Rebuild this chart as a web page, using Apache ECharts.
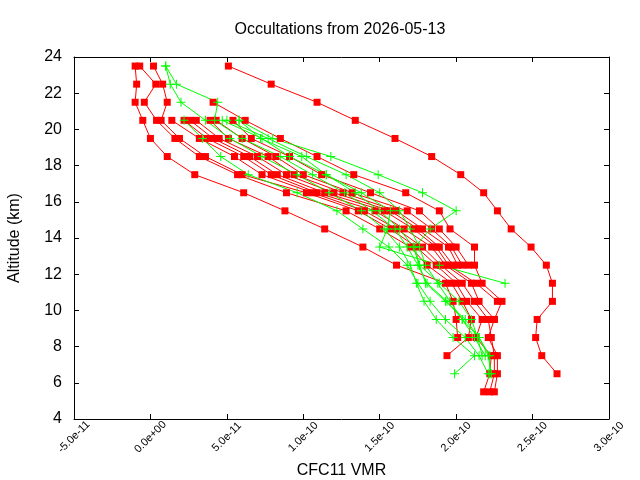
<!DOCTYPE html>
<html>
<head>
<meta charset="utf-8">
<script src="https://cdn.jsdelivr.net/npm/echarts@6/dist/echarts.min.js"></script>
<style>
  html, body { margin: 0; padding: 0; background: #fff; }
  #chart { width: 640px; height: 480px; }
</style>
</head>
<body>
<div id="chart"></div>
<script>
// altitude grid (km), top to bottom
const ALT = [23.5, 22.5, 21.5, 20.5, 19.5, 18.5, 17.5, 16.5, 15.5, 14.5,
             13.5, 12.5, 11.5, 10.5, 9.5, 8.5, 7.5, 6.5, 5.5]

// CFC11 VMR in pptv (1e-12), one value per ALT entry, null = no retrieval
const n = null
const red0  = [51, 79, 109, 134, 160, 184, 203, 218, 227, 236, 249, 259, 263, 263, 253, 252, 256, 266, n]
const red1  = [-10, -9, -10, -5, 0, 11, 29, 61, 88, 114, 139, 161, 193, 198, 200, 201, n, n, n]
const red2  = [-7, 3.5, -4, 4, 16, 32, 57, 89, 128, 150, 170, 181, 197, 204, 210, 208, 194, n, n]
const red3  = [2, 8, 11, 7, 19, 36, 60, 102, 136, 157, 174, 187, 200, 207, 217, 213, 223, 222, 218]
const red4  = [n, n, 41, 62, 85, 109, 133, 167, 189, 196, 212, 212, 217, 230, 225, 221, 227, 227, 225]
const red5  = [n, n, n, 14, 32, 55, 73, 106, 140, 161, 178, 190, 204, 212, 221, 223, 225, 225, 222]
const red6  = [n, n, n, 22, 37, 61, 79, 109, 147, 166, 184, 193, 210, 215, 225, n, n, n, n]
const red7  = [n, n, n, 26, 41, 65, 83, 114, 153, 172, 187, 195, 213, 227, n, n, n, n, n]
const red8  = [n, n, n, 30, 45, 70, 89, 120, 157, 175, 189, 198, n, n, n, n, n, n, n]
const red9  = [n, n, n, 39, 51, 77, 94, 126, 161, 178, 195, 201, n, n, n, n, n, n, n]
const red10 = [n, n, n, 43, 60, 82, 100, 132, 168, 184, 197, 204, n, n, n, n, n, n, n]
const red11 = [n, n, n, 54, 66, 91, 112, 144, 176, 189, 200, 208, n, n, n, n, n, n, n]

const green1 = [10, 13, 20, 36, 52, 73, 96, 117, 138, 153, 163, 170, 174, 179, 187, 198, 212, 199, n]
const green2 = [10, 17, 44, 42, 60, 85, 106, 127, 145, 160, 168, 175, 181, 194, 204, 215, 222, 222, n]
const green3 = [n, n, n, 58, 72, 99, 115, 134, 150, 163, 172, 176, 189, 202, 210, 214, 217, n, n]
const green4 = [n, n, n, 22, 34, 46, 64, 96, 122, 139, 156, 168, 175, 183, 193, 206, 215, 221, n]
const green5 = [n, n, n, 50, 77, 102, 128, 150, 163, 170, 176, 180, 188, 196, 204, 212, 219, n, n]
const green6 = [n, n, n, 58, 80, 118, 149, 178, 200, 183, 173, 176, 180, 193, 206, 215, 221, 223, n]
const green7 = [n, n, n, 47, 73, 91, 115, 138, 157, 155, 150, 189, 232, n, n, n, n, n, n]

const redProfiles = [red0, red1, red2, red3, red4, red5, red6, red7, red8, red9, red10, red11]
const greenProfiles = [green1, green2, green3, green4, green5, green6, green7]

const X_TICKS = { min: -50, max: 300, step: 50 }
const Y_TICKS = { min: 4, max: 24, step: 2 }

const FONT = 'Liberation Sans, Arial, sans-serif'
const PLUS = 'path://M4,0h1v4h4v1h-4v4h-1v-4h-4v-1h4z'

// gnuplot style exponent labels, e.g. 5.0e-11, 0.0e+00
const fmtVmr = (v) => {
  if (v === 0) return '0.0e+00'
  return (v * 1e-12).toExponential(1).replace(/e([+-])(\d)$/, 'e$10$2')
}

const toPoints = (vals) => vals
  .map((v, i) => (v === null ? null : [v, ALT[i]]))
  .filter((p) => p !== null)

const profileSeries = (vals, color, symbol, size) => ({
  type: 'line',
  data: toPoints(vals),
  symbol,
  symbolSize: size,
  showAllSymbol: true,
  lineStyle: { color, width: 1 },
  itemStyle: { color },
  emphasis: { disabled: true },
  silent: true
})

const series = [
  ...redProfiles.map((p) => profileSeries(p, '#ff0000', 'rect', 7)),
  ...greenProfiles.map((p) => profileSeries(p, '#00ff00', PLUS, 9))
]

const axisLine = { show: true, onZero: false, lineStyle: { color: '#000', width: 1 } }
const axisTick = { show: true, inside: true, length: 5, lineStyle: { color: '#000' } }

const option = {
  animation: false,
  backgroundColor: '#fff',
  textStyle: { fontFamily: FONT },
  title: {
    text: 'Occultations from 2026-05-13',
    left: 335,
    top: 17,
    textAlign: 'center',
    textStyle: { fontFamily: FONT, fontSize: 16, fontWeight: 'normal', color: '#000' }
  },
  grid: { left: 74, right: 31, top: 57, bottom: 61, containLabel: false, outerBoundsMode: 'none' },
  xAxis: [
    {
      type: 'value',
      min: X_TICKS.min,
      max: X_TICKS.max,
      interval: X_TICKS.step,
      position: 'bottom',
      axisLine,
      axisTick,
      splitLine: { show: false },
      axisLabel: {
        rotate: 45,
        fontSize: 11,
        color: '#000',
        fontFamily: FONT,
        align: 'center',
        verticalAlign: 'middle',
        margin: 18,
        formatter: fmtVmr
      },
      name: 'CFC11 VMR',
      nameLocation: 'middle',
      nameGap: 35,
      nameTextStyle: { fontSize: 16, color: '#000', fontFamily: FONT }
    },
    {
      type: 'value',
      min: X_TICKS.min,
      max: X_TICKS.max,
      interval: X_TICKS.step,
      position: 'top',
      axisLine,
      axisTick,
      splitLine: { show: false },
      axisLabel: { show: false }
    }
  ],
  yAxis: [
    {
      type: 'value',
      min: Y_TICKS.min,
      max: Y_TICKS.max,
      interval: Y_TICKS.step,
      position: 'left',
      axisLine,
      axisTick,
      splitLine: { show: false },
      axisLabel: { fontSize: 16, color: '#000', fontFamily: FONT, margin: 12 },
      name: 'Altitude (km)',
      nameLocation: 'middle',
      nameRotate: 90,
      nameGap: 51,
      nameTextStyle: { fontSize: 16, color: '#000', fontFamily: FONT }
    },
    {
      type: 'value',
      min: Y_TICKS.min,
      max: Y_TICKS.max,
      interval: Y_TICKS.step,
      position: 'right',
      axisLine,
      axisTick,
      splitLine: { show: false },
      axisLabel: { show: false }
    }
  ],
  series
}

const chart = echarts.init(document.getElementById('chart'), null, { renderer: 'canvas' })
chart.setOption(option)
</script>
</body>
</html>
